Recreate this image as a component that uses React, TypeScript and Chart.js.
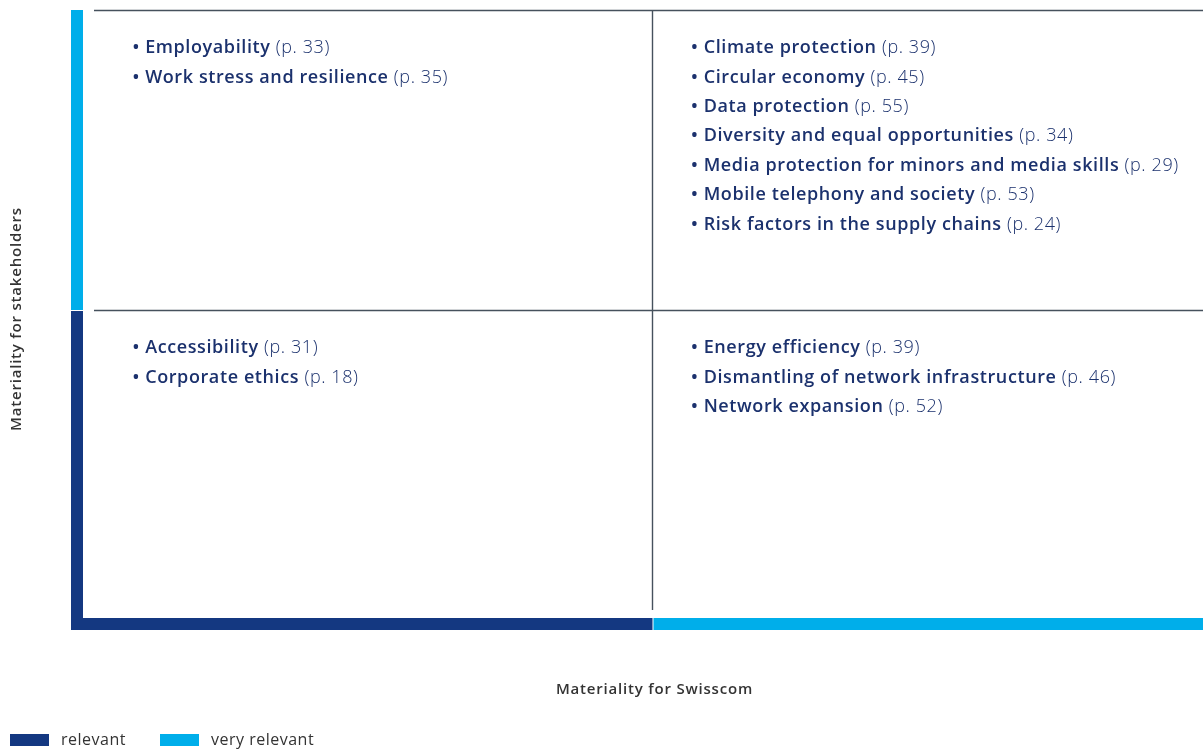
import React, { useEffect, useRef } from "react";
import { Chart, registerables } from "chart.js";

Chart.register(...registerables);

// ---- Data ----
const topLeftTopics = ["Employability", "Work stress and resilience"];
const topLeftPages = [33, 35];
const topRightTopics = [
  "Climate protection",
  "Circular economy",
  "Data protection",
  "Diversity and equal opportunities",
  "Media protection for minors and media skills",
  "Mobile telephony and society",
  "Risk factors in the supply chains",
];
const topRightPages = [39, 45, 55, 34, 29, 53, 24];
const bottomLeftTopics = ["Accessibility", "Corporate ethics"];
const bottomLeftPages = [31, 18];
const bottomRightTopics = ["Energy efficiency", "Dismantling of network infrastructure", "Network expansion"];
const bottomRightPages = [39, 46, 52];

// quadrant anchors (x = materiality for Swisscom start, y = materiality for stakeholders top)
const quadrantX = [0, 1, 0, 1];
const quadrantY = [2, 2, 1, 1];

const xTitle = "Materiality for Swisscom";
const yTitle = "Materiality for stakeholders";
const legendLabels = ["relevant", "very relevant"];

const NAVY = "#143881";
const CYAN = "#00aeea";
const TEXT = "#1b316d";
const GRID = "#46515d";
const AXIS_TEXT = "#333333";
const FONT = "'Open Sans', 'Noto Sans', sans-serif";

const matrixPlugin = {
  id: "matrix",
  afterDatasetsDraw(chart: any) {
    const { ctx, scales } = chart;
    const xs = scales.x;
    const ys = scales.y;
    const x0 = xs.getPixelForValue(0);
    const x1 = xs.getPixelForValue(1);
    const x2 = xs.getPixelForValue(2);
    const y0 = ys.getPixelForValue(0);
    const y1 = ys.getPixelForValue(1);
    const y2 = ys.getPixelForValue(2);
    ctx.save();

    // grid lines
    ctx.strokeStyle = GRID;
    ctx.lineWidth = 1.4;
    ctx.beginPath();
    ctx.moveTo(x0, y2 + 0.5);
    ctx.lineTo(x2, y2 + 0.5);
    ctx.moveTo(x0, y1 + 0.5);
    ctx.lineTo(x2, y1 + 0.5);
    ctx.moveTo(x1, y2);
    ctx.lineTo(x1, y0);
    ctx.stroke();

    // axis bars
    const barL = x0 - 23;
    ctx.fillStyle = CYAN;
    ctx.fillRect(barL, y2, 12, y1 - y2);
    ctx.fillStyle = NAVY;
    ctx.fillRect(barL, y1 + 1, 12, y0 + 20 - (y1 + 1));
    ctx.fillRect(barL, y0 + 8, x1 - barL, 12);
    ctx.fillStyle = CYAN;
    ctx.fillRect(x1 + 1, y0 + 8, x2 + 20 - x1, 12);

    // topics
    chart.data.datasets.forEach((ds: any) => {
      const pt = ds.data[0];
      const px = xs.getPixelForValue(pt.x) + 38.5;
      const py = ys.getPixelForValue(pt.y) + 38;
      ds.topics.forEach((t: string, i: number) => {
        const y = py + i * 29.4;
        ctx.textBaseline = "middle";
        ctx.fillStyle = TEXT;
        ctx.letterSpacing = "0.6px";
        ctx.font = `600 18px ${FONT}`;
        const b = "• ";
        ctx.fillText(b, px, y);
        let cx = px + ctx.measureText(b).width;
        ctx.fillText(t, cx, y);
        cx += ctx.measureText(t + " ").width;
        ctx.font = `300 18px ${FONT}`;
        ctx.fillText(`(p. ${ds.pages[i]})`, cx, y);
      });
    });

    // axis titles
    ctx.fillStyle = AXIS_TEXT;
    ctx.letterSpacing = "0.8px";
    ctx.font = `600 15px ${FONT}`;
    ctx.textAlign = "center";
    ctx.textBaseline = "middle";
    ctx.fillText(xTitle, x1 + 2, y0 + 80);
    ctx.save();
    ctx.translate(17, (y2 + y0) / 2 + 9);
    ctx.rotate(-Math.PI / 2);
    ctx.fillText(yTitle, 0, 0);
    ctx.restore();

    // legend
    ctx.textAlign = "left";
    ctx.letterSpacing = "0.5px";
    ctx.font = `16px ${FONT}`;
    const lx = [10, 160];
    const colors = [NAVY, CYAN];
    legendLabels.forEach((l, i) => {
      ctx.fillStyle = colors[i];
      ctx.fillRect(lx[i], 734, 39, 12);
      ctx.fillStyle = AXIS_TEXT;
      ctx.fillText(l, lx[i] + 51, 740);
    });
    ctx.letterSpacing = "0px";
    ctx.restore();
  },
};

export default function App() {
  const ref = useRef<HTMLCanvasElement>(null);
  useEffect(() => {
    const mk = (x: number, y: number, topics: string[], pages: number[], label: string) => ({
      label,
      data: [{ x, y }],
      pointRadius: 0,
      topics,
      pages,
    });
    const chart = new Chart(ref.current as HTMLCanvasElement, {
      type: "scatter",
      data: {
        datasets: [
          mk(quadrantX[0], quadrantY[0], topLeftTopics, topLeftPages, "top-left"),
          mk(quadrantX[1], quadrantY[1], topRightTopics, topRightPages, "top-right"),
          mk(quadrantX[2], quadrantY[2], bottomLeftTopics, bottomLeftPages, "bottom-left"),
          mk(quadrantX[3], quadrantY[3], bottomRightTopics, bottomRightPages, "bottom-right"),
        ] as any,
      },
      options: {
        animation: false,
        responsive: false,
        devicePixelRatio: 1,
        layout: { padding: { left: 94, top: 10, right: 9, bottom: 139 } },
        scales: {
          x: { type: "linear", min: 0, max: 2, display: false },
          y: { type: "linear", min: 0, max: 2, display: false },
        },
        plugins: { legend: { display: false }, tooltip: { enabled: false } },
      },
      plugins: [matrixPlugin],
    });
    return () => chart.destroy();
  }, []);
  return (
    <div style={{ position: "fixed", left: 0, top: 0, width: 1203, height: 749, overflow: "hidden", background: "#fff" }}>
      <canvas ref={ref} width={1220} height={749} style={{ display: "block" }} />
    </div>
  );
}
